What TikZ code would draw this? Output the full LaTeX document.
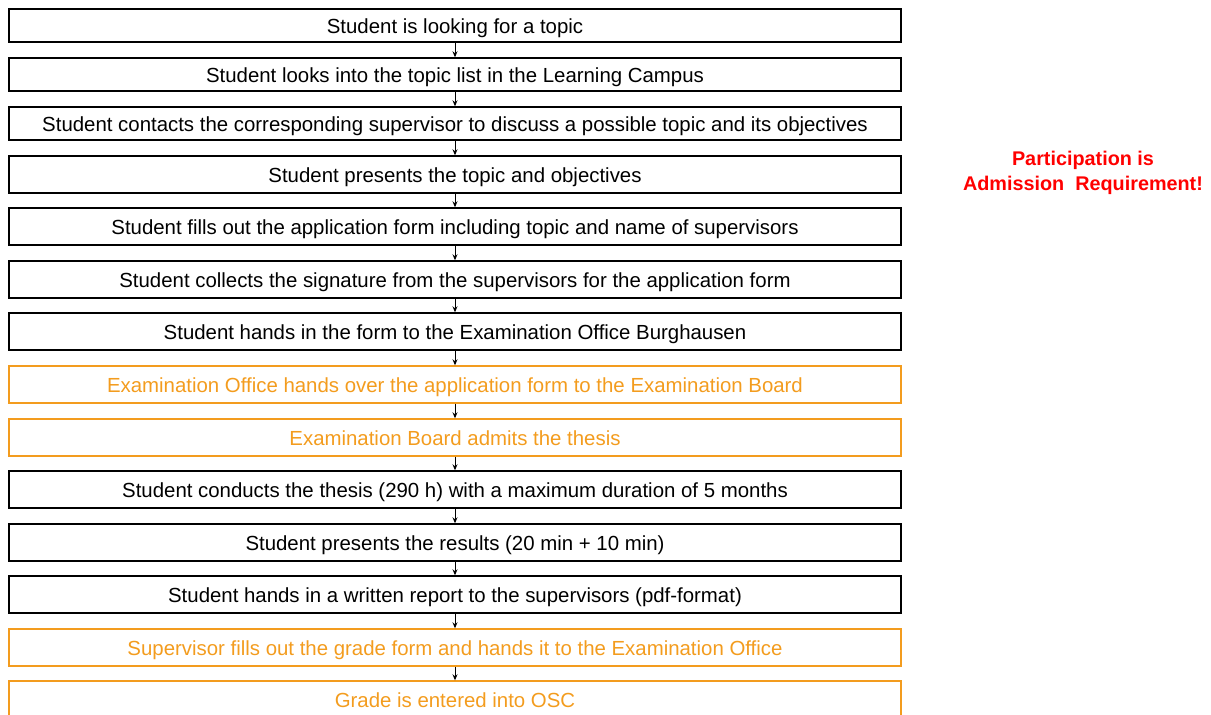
\documentclass[tikz,border=0pt]{standalone}
\usepackage{fontspec}
\setmainfont{Liberation Sans}
\usetikzlibrary{arrows.meta}
\definecolor{orng}{RGB}{243,156,30}
\definecolor{redtxt}{RGB}{255,0,0}
\tikzset{
  box/.style={draw=black, line width=1.4pt, minimum width=892pt, inner sep=0pt, text height=17pt, text depth=1.4pt, font=\fontsize{20.4}{23}\selectfont, text=black},
  obox/.style={box, draw=orng, text=orng},
  arr/.style={-{Stealth[length=6pt,width=5pt]}, line width=1pt, black}
}
\begin{document}
\begin{tikzpicture}[x=1pt,y=-1pt]
\useasboundingbox (0,0) rectangle (1211,715);
\node[box, minimum height=33pt] (b1) at (455,25.5) {Student is looking for a topic};
\node[box, minimum height=33pt] (b2) at (455,74.5) {Student looks into the topic list in the Learning Campus};
\node[box, minimum height=33pt] (b3) at (455,123.5) {Student contacts the corresponding supervisor to discuss a possible topic and its objectives};
\node[box, minimum height=37pt] (b4) at (455,174.5) {Student presents the topic and objectives};
\node[box, minimum height=37pt] (b5) at (455,226.5) {Student fills out the application form including topic and name of supervisors};
\node[box, minimum height=37pt] (b6) at (455,279.5) {Student collects the signature from the supervisors for the application form};
\node[box, minimum height=37pt] (b7) at (455,331.5) {Student hands in the form to the Examination Office Burghausen};
\node[obox, minimum height=37pt] (b8) at (455,384.5) {Examination Office hands over the application form to the Examination Board};
\node[obox, minimum height=37pt] (b9) at (455,437.5) {Examination Board admits the thesis};
\node[box, minimum height=37pt] (b10) at (455,489.5) {Student conducts the thesis (290 h) with a maximum duration of 5 months};
\node[box, minimum height=37pt] (b11) at (455,542.5) {Student presents the results (20 min + 10 min)};
\node[box, minimum height=37pt] (b12) at (455,594.5) {Student hands in a written report to the supervisors (pdf-format)};
\node[obox, minimum height=37pt] (b13) at (455,647.5) {Supervisor fills out the grade form and hands it to the Examination Office};
\node[obox, minimum height=37pt] (b14) at (455,699.5) {Grade is entered into OSC};
\foreach \a/\b in {b1/b2,b2/b3,b3/b4,b4/b5,b5/b6,b6/b7,b7/b8,b8/b9,b9/b10,b10/b11,b11/b12,b12/b13,b13/b14}
  \draw[arr] (\a.south) -- (\b.north);
\node[align=center, text=redtxt, font=\fontsize{19.8}{25}\selectfont\bfseries] (note) at (1083,173) {Participation is\\Admission~~Requirement!};
\end{tikzpicture}
\end{document}
